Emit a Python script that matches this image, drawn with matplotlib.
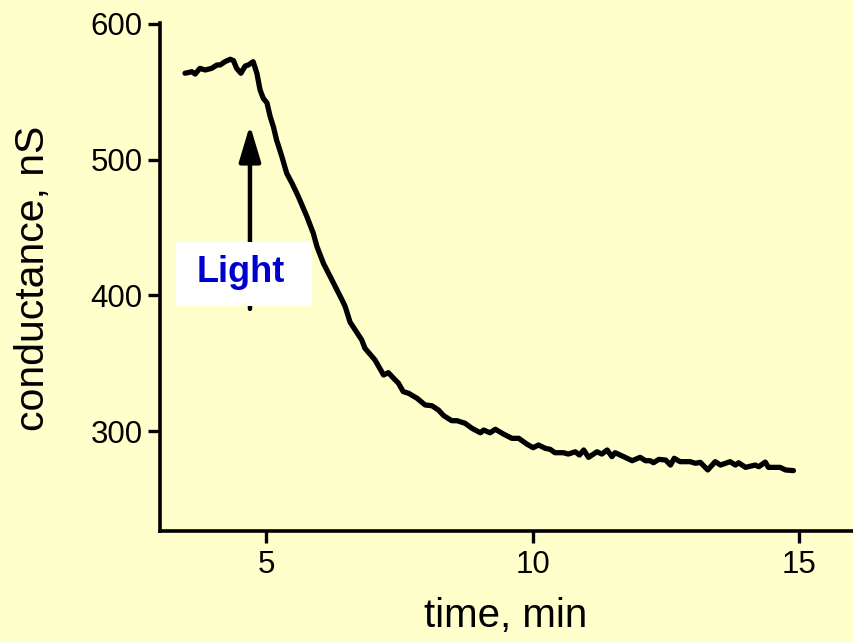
import matplotlib
matplotlib.use("Agg")
import matplotlib.pyplot as plt
from matplotlib.patches import Rectangle

plt.rcParams['font.family'] = ['Liberation Sans', 'DejaVu Sans']

time_min = [3.47, 3.60, 3.66, 3.75, 3.85, 3.97, 4.07, 4.13, 4.22, 4.32, 4.38, 4.44,
            4.52, 4.60, 4.66, 4.75, 4.82, 4.88, 4.94, 5.01, 5.07, 5.13, 5.19, 5.29,
            5.38, 5.48, 5.60, 5.76, 5.88, 5.95, 6.07, 6.23, 6.42, 6.48, 6.57, 6.79,
            6.85, 7.04, 7.20, 7.29, 7.39, 7.48, 7.57, 7.67, 7.83, 7.98, 8.11, 8.23,
            8.33, 8.48, 8.58, 8.73, 8.86, 9.02, 9.08, 9.20, 9.30, 9.45, 9.61, 9.74,
            9.89, 10.01, 10.11, 10.24, 10.33, 10.42, 10.58, 10.67, 10.80, 10.88, 10.96,
            11.05, 11.21, 11.30, 11.40, 11.49, 11.55, 11.71, 11.87, 12.02, 12.12, 12.21,
            12.27, 12.37, 12.50, 12.59, 12.66, 12.77, 12.96, 13.06, 13.15, 13.29, 13.43,
            13.53, 13.71, 13.81, 13.87, 14.00, 14.18, 14.25, 14.37, 14.43, 14.65, 14.75,
            14.90]
conductance_nS = [563.7, 564.8, 563.1, 567.3, 566.1, 567.3, 569.8, 569.8, 572.2, 574.0,
                  573.0, 567.3, 563.7, 569.0, 569.8, 572.2, 563.7, 551.4, 545.2, 541.8,
                  531.7, 524.3, 514.5, 502.2, 490.0, 482.6, 472.7, 458.0, 445.7, 435.8,
                  423.6, 411.3, 396.6, 391.6, 380.3, 367.1, 361.0, 352.3, 341.3, 343.0,
                  338.8, 335.2, 329.0, 327.8, 324.1, 319.2, 318.6, 315.5, 311.3, 307.6,
                  307.6, 305.7, 302.0, 298.7, 300.7, 298.7, 301.3, 297.8, 294.6, 294.6,
                  290.4, 287.7, 289.7, 287.2, 286.5, 284.0, 284.0, 283.0, 284.7, 282.3,
                  286.0, 280.6, 284.7, 283.0, 286.0, 281.1, 284.0, 281.1, 278.1, 280.6,
                  278.1, 278.1, 276.6, 279.1, 278.6, 274.9, 279.9, 277.4, 277.4, 276.2,
                  276.9, 271.3, 277.4, 274.9, 277.4, 274.9, 276.6, 273.2, 274.9, 273.7,
                  277.1, 273.2, 273.2, 271.3, 270.8]

x_ticks = [5, 10, 15]
y_ticks = [300, 400, 500, 600]
x_label = "time, min"
y_label = "conductance, nS"
annotation_text = "Light"

bg = '#FFFFCC'
fig = plt.figure(figsize=(8.54, 6.42), dpi=100, facecolor=bg)
ax = fig.add_axes([160/854, 111/642, 692/854, 510/642])
ax.set_facecolor(bg)

ax.plot(time_min, conductance_nS, color='black', lw=3.8, solid_joinstyle='round',
        solid_capstyle='round', zorder=3)

ax.set_xlim(3, 16)
ax.set_ylim(226.3, 602.2)
ax.set_xticks(x_ticks)
ax.set_yticks(y_ticks)
ax.tick_params(axis='both', direction='out', length=8.5, width=2.4, labelsize=22.5, color='black')
ax.tick_params(axis='x', pad=5.5)
ax.tick_params(axis='y', pad=4)
for s in ['top', 'right']:
    ax.spines[s].set_visible(False)
for s in ['left', 'bottom']:
    ax.spines[s].set_linewidth(2.6)
ax.spines['left'].set_bounds(226.3, 601)

ax.set_xlabel(x_label, fontsize=29)
ax.set_ylabel(y_label, fontsize=29.5)
ax.xaxis.set_label_coords(0.5, -0.167)
ax.yaxis.set_label_coords(-0.183, 0.496)
ax.xaxis.label.set_va('center')
ax.yaxis.label.set_va('center')

# arrow (Light)
ax.annotate('', xy=(4.69, 525.5), xytext=(4.69, 390),
            arrowprops=dict(arrowstyle='-|>,head_length=1.1,head_width=0.33',
                            mutation_scale=20, lw=3.2, color='black',
                            shrinkA=0, shrinkB=0, capstyle='round'),
            zorder=4)
ax.add_patch(Rectangle((3.30, 392.1), 2.56, 47.2, facecolor='white', edgecolor='none', zorder=5))
ax.text(4.52, 416.5, annotation_text, color='#0000CC', fontsize=26, fontweight='bold',
        ha='center', va='center', zorder=6)

fig.savefig('out.png', dpi=100, facecolor=bg)
